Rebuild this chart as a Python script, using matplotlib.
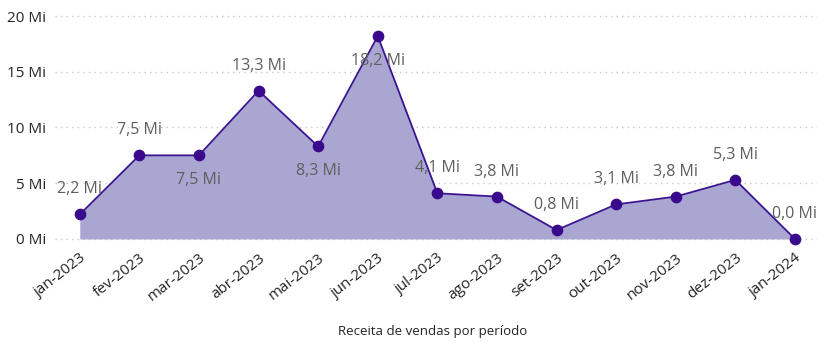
import matplotlib
matplotlib.use("Agg")
import matplotlib.pyplot as plt

plt.rcParams['font.family'] = ['Open Sans', 'DejaVu Sans']

# receita mensal (milhões)
meses = ['jan-2023', 'fev-2023', 'mar-2023', 'abr-2023', 'mai-2023', 'jun-2023',
         'jul-2023', 'ago-2023', 'set-2023', 'out-2023', 'nov-2023', 'dez-2023', 'jan-2024']
receita = [2.2, 7.5, 7.5, 13.3, 8.3, 18.2, 4.1, 3.8, 0.8, 3.1, 3.8, 5.3, 0.0]
# posição do rótulo: 1 acima do ponto, -1 abaixo
lado = [1, 1, -1, 1, -1, -1, 1, 1, 1, 1, 1, 1, 1]
y_ticks = [0, 5, 10, 15, 20]

fig = plt.figure(figsize=(8.17, 3.42), dpi=100)
ax = fig.add_axes([0.067, 0.2915, 0.933, 0.678])

x = list(range(len(meses)))
ax.fill_between(x, receita, 0, color='#a9a6d2', lw=0, zorder=2)
ax.plot(x, receita, color='#3b1591', lw=1.3, zorder=3)
ax.scatter(x, receita, s=55, color='#3a0a8c', zorder=4, clip_on=False)

for xi, v, s in zip(x, receita, lado):
    txt = f"{v:.1f}".replace('.', ',') + " Mi"
    off = 18 if s > 0 else -18
    ax.annotate(txt, (xi, v), xytext=(0, off), textcoords='offset points',
                ha='center', va='center', fontsize=11.5, color='#605e5c', zorder=5)

ax.set_xlim(-0.42, 12.37)
ax.set_ylim(-0.3, 20.5)
ax.set_yticks(y_ticks)
ax.set_yticklabels([f"{t} Mi" for t in y_ticks], fontsize=11, color='#252423')
ax.yaxis.grid(True, linestyle=(0, (1, 3)), color='#c8c8c8', lw=1)
ax.set_axisbelow(True)
ax.set_xticks(x)
ax.set_xticklabels(meses, rotation=38, ha='right', rotation_mode='anchor',
                   fontsize=11, color='#252423')
ax.tick_params(length=0, pad=6)
for sp in ax.spines.values():
    sp.set_visible(False)

fig.text(0.53, 0.02, 'Receita de vendas por período', ha='center', fontsize=9.5, color='#252423')

fig.savefig('out.png', dpi=100)
